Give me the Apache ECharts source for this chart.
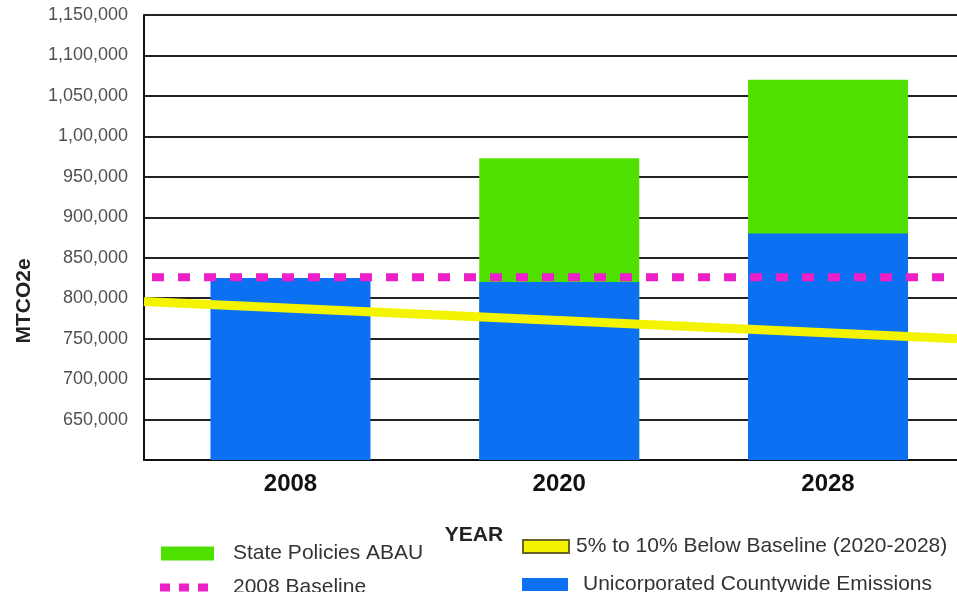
<!DOCTYPE html>
<html>
<head>
<meta charset="utf-8">
<script src="https://cdn.jsdelivr.net/npm/echarts@6/dist/echarts.min.js"></script>
<style>
html,body{margin:0;padding:0;background:#ffffff;}
#chart{width:957px;height:592px;}
</style>
</head>
<body>
<div id="chart"></div>
<script>
// ---- data ----
const categories = ['2008', '2020', '2028'];
const categoryPositions = [0, 1, 2];
const countywideEmissions = [825000, 820000, 880000];          // blue bars
const statePoliciesTotal = [null, 973000, 1070000];            // top of green bars
const baseline2008 = 826000;                                   // magenta dotted line
const belowBaselineLine = [796000, 750000];                    // yellow line, left edge -> right edge
const yTickValues = [600000, 650000, 700000, 750000, 800000, 850000, 900000, 950000, 1000000, 1050000, 1100000, 1150000];
const yTickLabels = ['', '650,000', '700,000', '750,000', '800,000', '850,000', '900,000', '950,000', '1,00,000', '1,050,000', '1,100,000', '1,150,000'];

const X_MIN = -0.545, X_MAX = 2.48;
const FONT = 'Liberation Sans, Arial, sans-serif';
const BLUE = '#0b70f2', GREEN = '#50e000', MAGENTA = '#ee1ec8', YELLOW = '#f4f400';

const pairs = (vals) => categoryPositions.map((x, i) => [x, vals[i]]).filter(p => p[1] != null);

const chart = echarts.init(document.getElementById('chart'), null, {renderer: 'canvas'});
chart.setOption({
  animation: false,
  backgroundColor: '#ffffff',
  textStyle: {fontFamily: FONT},
  grid: {left: 144, right: 0, top: 15, bottom: 132, containLabel: false},
  xAxis: {
    type: 'value', min: X_MIN, max: X_MAX,
    splitLine: {show: false},
    axisTick: {show: false},
    axisLine: {show: true, onZero: false, lineStyle: {color: '#111', width: 2}},
    axisLabel: {
      customValues: categoryPositions,
      margin: 12,
      color: '#111', fontSize: 24, fontWeight: 'bold', fontFamily: FONT,
      formatter: v => { const i = categoryPositions.indexOf(v); return i >= 0 ? categories[i] : ''; }
    }
  },
  yAxis: {
    type: 'value', min: yTickValues[0], max: yTickValues[yTickValues.length - 1], interval: 50000,
    axisLine: {show: true, onZero: false, lineStyle: {color: '#111', width: 2}},
    axisTick: {show: false},
    splitLine: {show: true, lineStyle: {color: '#222', width: 2}},
    axisLabel: {
      margin: 16, color: '#505050', fontSize: 18, fontFamily: FONT, padding: [4, 0, 0, 0],
      formatter: v => { const i = yTickValues.indexOf(v); return i >= 0 ? yTickLabels[i] : ''; }
    }
  },
  legend: [
    {data: [{name: 'State Policies ABAU', icon: 'rect'}], left: 156, top: 538, itemWidth: 53, itemHeight: 14,
     textStyle: {fontSize: 21, color: '#333', fontFamily: FONT, padding: [0, 0, 0, 14]}, selectedMode: false},
    {data: [{name: '2008 Baseline', icon: 'path://M0,0h10v8h-10z M19,0h10v8h-10z M38,0h10v8h-10z'}], left: 155, top: 572, itemWidth: 48, itemHeight: 8,
     itemStyle: {borderWidth: 0}, textStyle: {fontSize: 21, color: '#333', fontFamily: FONT, padding: [0, 0, 0, 20]}, selectedMode: false},
    {data: [{name: '5% to 10% Below Baseline (2020-2028)', icon: 'rect'}], left: 517, top: 531, itemWidth: 46, itemHeight: 13,
     itemStyle: {color: YELLOW, borderColor: '#6b6424', borderWidth: 2},
     textStyle: {fontSize: 21, color: '#333', fontFamily: FONT, padding: [0, 0, 0, 2]}, selectedMode: false},
    {data: [{name: 'Unicorporated Countywide Emissions', icon: 'rect'}], left: 517, top: 569, itemWidth: 46, itemHeight: 13,
     itemStyle: {borderWidth: 0}, textStyle: {fontSize: 21, color: '#333', fontFamily: FONT, padding: [0, 0, 0, 10]}, selectedMode: false}
  ],
  graphic: [
    {type: 'text', x: 24, y: 301, rotation: Math.PI / 2,
     style: {text: 'MTCO2e', fontSize: 21, fontWeight: 'bold', fontFamily: FONT, fill: '#222', align: 'center', verticalAlign: 'middle'}},
    {type: 'text', x: 474, y: 535,
     style: {text: 'YEAR', fontSize: 21, fontWeight: 'bold', fontFamily: FONT, fill: '#222', align: 'center', verticalAlign: 'middle'}}
  ],
  series: [
    {name: 'State Policies ABAU', type: 'bar', data: pairs(statePoliciesTotal), barWidth: 160, barGap: '-100%',
     itemStyle: {color: GREEN}, clip: true, z: 2},
    {name: 'Unicorporated Countywide Emissions', type: 'bar', data: pairs(countywideEmissions), barWidth: 160, barGap: '-100%',
     itemStyle: {color: BLUE}, clip: true, z: 3},
    {name: '2008 Baseline', type: 'line', data: [[X_MIN, baseline2008], [X_MAX, baseline2008]], symbol: 'none',
     itemStyle: {color: MAGENTA}, lineStyle: {color: MAGENTA, width: 8, type: [12, 14], dashOffset: 18}, z: 5},
    {name: '5% to 10% Below Baseline (2020-2028)', type: 'line', data: [[X_MIN, belowBaselineLine[0]], [X_MAX, belowBaselineLine[1]]], symbol: 'none',
     itemStyle: {color: YELLOW}, lineStyle: {color: YELLOW, width: 9}, z: 5}
  ]
});
</script>
</body>
</html>
